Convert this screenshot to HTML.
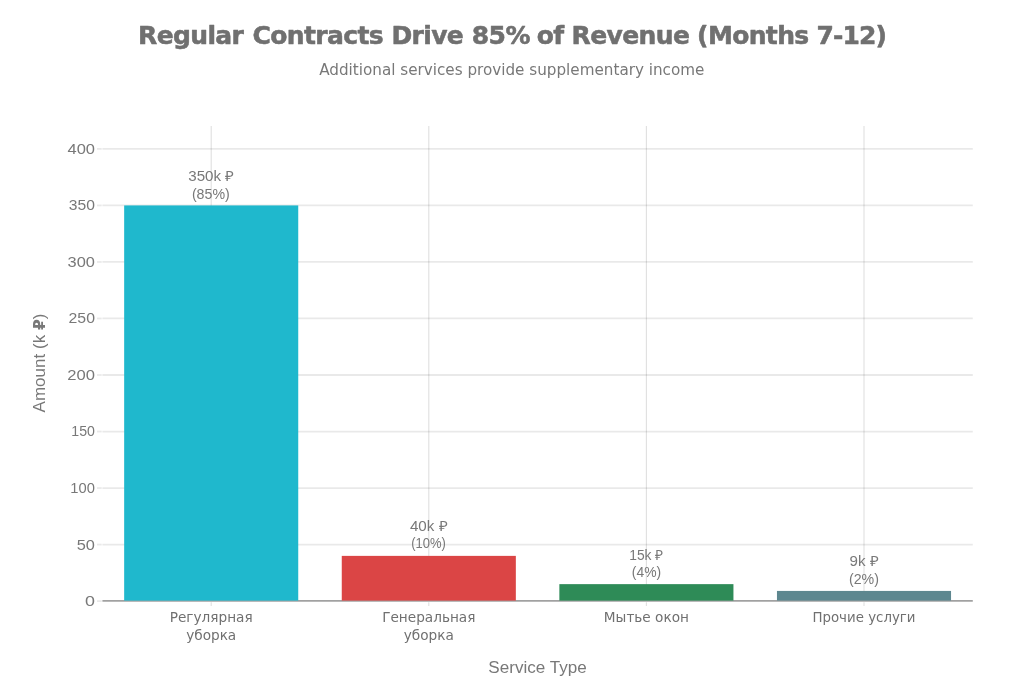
<!DOCTYPE html>
<html>
<head>
<meta charset="utf-8">
<style>
html,body{margin:0;padding:0;background:#fff;}
body{width:1024px;height:683px;overflow:hidden;}
svg{display:block;will-change:transform;}
text{fill:#787878;}
.d text{fill:#707070;}
</style>
</head>
<body>
<svg width="1024" height="683" viewBox="0 0 1024 683">
<rect x="0" y="0" width="1024" height="683" fill="#fff"/>
<g stroke="#000" stroke-opacity="0.085" stroke-width="1.8">
<line x1="102.4" x2="972.8" y1="544.58" y2="544.58"/>
<line x1="102.4" x2="972.8" y1="488.05" y2="488.05"/>
<line x1="102.4" x2="972.8" y1="431.53" y2="431.53"/>
<line x1="102.4" x2="972.8" y1="375.00" y2="375.00"/>
<line x1="102.4" x2="972.8" y1="318.47" y2="318.47"/>
<line x1="102.4" x2="972.8" y1="261.95" y2="261.95"/>
<line x1="102.4" x2="972.8" y1="205.42" y2="205.42"/>
<line x1="102.4" x2="972.8" y1="148.90" y2="148.90"/>
<line x1="97" x2="101.7" y1="601.10" y2="601.10"/>
<line x1="97" x2="101.7" y1="544.58" y2="544.58"/>
<line x1="97" x2="101.7" y1="488.05" y2="488.05"/>
<line x1="97" x2="101.7" y1="431.53" y2="431.53"/>
<line x1="97" x2="101.7" y1="375.00" y2="375.00"/>
<line x1="97" x2="101.7" y1="318.47" y2="318.47"/>
<line x1="97" x2="101.7" y1="261.95" y2="261.95"/>
<line x1="97" x2="101.7" y1="205.42" y2="205.42"/>
<line x1="97" x2="101.7" y1="148.90" y2="148.90"/>
</g>
<g stroke="#000" stroke-opacity="0.125" stroke-width="1.1">
<line x1="211.20" x2="211.20" y1="126" y2="600"/>
<line x1="428.80" x2="428.80" y1="126" y2="600"/>
<line x1="646.40" x2="646.40" y1="126" y2="600"/>
<line x1="864.00" x2="864.00" y1="126" y2="600"/>
<line x1="211.20" x2="211.20" y1="602.3" y2="605.9"/>
<line x1="428.80" x2="428.80" y1="602.3" y2="605.9"/>
<line x1="646.40" x2="646.40" y1="602.3" y2="605.9"/>
<line x1="864.00" x2="864.00" y1="602.3" y2="605.9"/>
</g>
<line x1="102.4" x2="972.8" y1="600.9" y2="600.9" stroke="#000" stroke-opacity="0.37" stroke-width="1.7"/>
<rect x="124.16" y="205.42" width="174.08" height="395.18" fill="#1FB8CD"/>
<rect x="341.76" y="555.88" width="174.08" height="44.72" fill="#DB4545"/>
<rect x="559.36" y="584.14" width="174.08" height="16.46" fill="#2E8B57"/>
<rect x="776.96" y="590.93" width="174.08" height="9.67" fill="#5D878F"/>
<g font-family="DejaVu Sans, sans-serif" font-size="25" font-weight="bold" letter-spacing="-0.625" style="fill:#707070" stroke="#707070" stroke-width="0.55" stroke-linejoin="round">
<text x="138.0" y="44.1" style="fill:#707070">Regular</text>
<text x="252.5" y="44.1" style="fill:#707070">Contracts</text>
<text x="391.4" y="44.1" style="fill:#707070">Drive</text>
<text x="471.85" y="44.1" style="fill:#707070">85%</text>
<text x="536.75" y="44.1" style="fill:#707070">of</text>
<text x="571.6" y="44.1" style="fill:#707070">Revenue</text>
<text x="697.1" y="44.1" style="fill:#707070">(Months</text>
<text x="816.5" y="44.1" style="fill:#707070" letter-spacing="-0.9">7-12)</text>
</g>
<text x="511.8" y="74.9" font-family="DejaVu Sans, sans-serif" font-size="15.2" text-anchor="middle">Additional services provide supplementary income</text>
<text transform="matrix(1.2593,0,0,1,85.07,606.05)" font-family="Liberation Sans, sans-serif" font-size="14.2">0</text>
<text transform="matrix(1.1517,0,0,1,76.64,549.53)" font-family="Liberation Sans, sans-serif" font-size="14.2">50</text>
<text transform="matrix(1.0364,0,0,1,70.36,493.0)" font-family="Liberation Sans, sans-serif" font-size="14.2">100</text>
<text transform="matrix(0.9955,0,0,1,71.30,436.48)" font-family="Liberation Sans, sans-serif" font-size="14.2">150</text>
<text transform="matrix(1.1685,0,0,1,67.32,379.95)" font-family="Liberation Sans, sans-serif" font-size="14.2">200</text>
<text transform="matrix(1.1146,0,0,1,68.56,323.42)" font-family="Liberation Sans, sans-serif" font-size="14.2">250</text>
<text transform="matrix(1.1556,0,0,1,67.62,266.9)" font-family="Liberation Sans, sans-serif" font-size="14.2">300</text>
<text transform="matrix(1.1022,0,0,1,68.85,210.37)" font-family="Liberation Sans, sans-serif" font-size="14.2">350</text>
<text transform="matrix(1.1604,0,0,1,67.51,153.85)" font-family="Liberation Sans, sans-serif" font-size="14.2">400</text>
<text transform="matrix(1.0667,0,0,1,188.27,180.8)" font-family="Liberation Sans, sans-serif" font-size="14.2">350k ₽</text>
<text transform="matrix(1.0000,0,0,1,191.90,198.7)" font-family="Liberation Sans, sans-serif" font-size="14.2">(85%)</text>
<text transform="matrix(1.0686,0,0,1,409.93,530.8)" font-family="Liberation Sans, sans-serif" font-size="14.2">40k ₽</text>
<text transform="matrix(0.9139,0,0,1,411.19,548.4)" font-family="Liberation Sans, sans-serif" font-size="14.2">(10%)</text>
<text transform="matrix(0.9731,0,0,1,629.23,559.6)" font-family="Liberation Sans, sans-serif" font-size="14.2">15k ₽</text>
<text transform="matrix(0.9786,0,0,1,631.82,576.6)" font-family="Liberation Sans, sans-serif" font-size="14.2">(4%)</text>
<text transform="matrix(1.0654,0,0,1,849.60,566.1)" font-family="Liberation Sans, sans-serif" font-size="14.2">9k ₽</text>
<text transform="matrix(1.0000,0,0,1,849.00,583.7)" font-family="Liberation Sans, sans-serif" font-size="14.2">(2%)</text>
<g class="d" font-family="DejaVu Sans, sans-serif" font-size="13.65" text-anchor="middle">
<text x="211.20" y="622.3">Регулярная</text>
<text x="211.20" y="640">уборка</text>
<text x="428.80" y="622.3">Генеральная</text>
<text x="428.80" y="640">уборка</text>
<text x="646.40" y="622.3">Мытье окон</text>
<text x="864.00" y="622.3" transform="matrix(0.979,0,0,1,18.14,0)">Прочие услуги</text>
</g>
<text x="537.5" y="672.5" font-family="Liberation Sans, sans-serif" font-size="17.07" text-anchor="middle">Service Type</text>
<text transform="translate(45.0,412.5) rotate(-90)" font-family="Liberation Sans, sans-serif" font-size="17.07">Amount (k <tspan font-family="DejaVu Sans, sans-serif" font-weight="bold" font-size="15.5">₽</tspan>)</text>
</svg>
</body>
</html>
